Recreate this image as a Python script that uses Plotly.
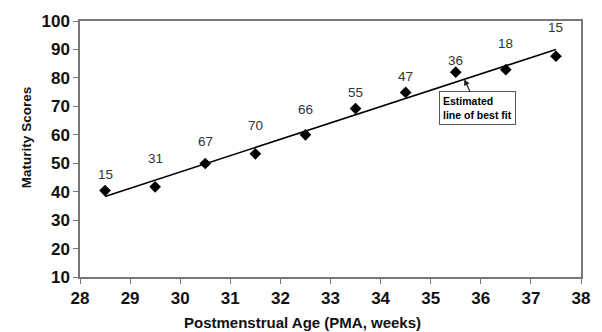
import plotly.graph_objects as go

pma_weeks = [28.5, 29.5, 30.5, 31.5, 32.5, 33.5, 34.5, 35.5, 36.5, 37.5]
maturity = [40.4, 41.7, 49.9, 53.3, 60.0, 69.2, 74.9, 82.0, 82.9, 87.6]
counts = [15, 31, 67, 70, 66, 55, 47, 36, 18, 15]
fit_x = [28.5, 37.5]
fit_y = [38.3, 90.0]

FONT = "Liberation Sans, Arial"

def fit_at(x):
    return fit_y[0] + (x - fit_x[0]) * (fit_y[1] - fit_y[0]) / (fit_x[1] - fit_x[0])

fig = go.Figure()
fig.add_trace(go.Scatter(x=fit_x, y=fit_y, mode="lines",
                         line=dict(color="black", width=1.6), hoverinfo="skip"))
fig.add_trace(go.Scatter(x=pma_weeks, y=maturity, mode="markers",
                         marker=dict(symbol="diamond", size=9, color="black")))

annotations = []
for x, n in zip(pma_weeks, counts):
    annotations.append(dict(x=x, y=fit_at(x), text=str(n), showarrow=False,
                            yshift=22, font=dict(family=FONT, size=13.5, color="#333")))

arrow_x = 35.67
annotations.append(dict(x=arrow_x, y=fit_at(arrow_x), xref="x", yref="y",
                        text="<b>Estimated<br>line of best fit</b>", align="left",
                        showarrow=True, arrowhead=2, arrowsize=1, arrowwidth=1.2, arrowcolor="#222",
                        ax=35.94, ay=69.3, axref="x", ayref="y",
                        bordercolor="#555", borderwidth=1, borderpad=3, bgcolor="white",
                        font=dict(family=FONT, size=10.5, color="black")))

# axis titles
annotations.append(dict(x=0.444, y=-0.176, xref="paper", yref="paper",
                        text="<b>Postmenstrual Age (PMA, weeks)</b>", showarrow=False,
                        xanchor="center", yanchor="middle",
                        font=dict(family=FONT, size=15, color="#111")))
annotations.append(dict(x=-0.107, y=0.544, xref="paper", yref="paper",
                        text="<b>Maturity Scores</b>", showarrow=False, textangle=-90,
                        xanchor="center", yanchor="middle",
                        font=dict(family=FONT, size=13.5, color="#111")))

fig.update_layout(
    width=602, height=332,
    margin=dict(l=80, r=19, t=16, b=55),
    plot_bgcolor="white", paper_bgcolor="white",
    showlegend=False,
    annotations=annotations,
    font=dict(family=FONT, color="black"),
)
fig.update_xaxes(range=[28, 38], dtick=1, tick0=28, showgrid=False, zeroline=False,
                 showline=True, linecolor="#777", linewidth=1.5, mirror=True,
                 ticks="outside", ticklen=5, tickcolor="#777",
                 tickfont=dict(size=17, family=FONT, weight="bold", color="#111"))
fig.update_yaxes(range=[10, 100], dtick=10, showgrid=False, zeroline=False,
                 showline=True, linecolor="#777", linewidth=1.5, mirror=True,
                 ticks="outside", ticklen=5, tickcolor="#777",
                 tickfont=dict(size=17, family=FONT, weight="bold", color="#111"))

fig.write_html("out.html")
